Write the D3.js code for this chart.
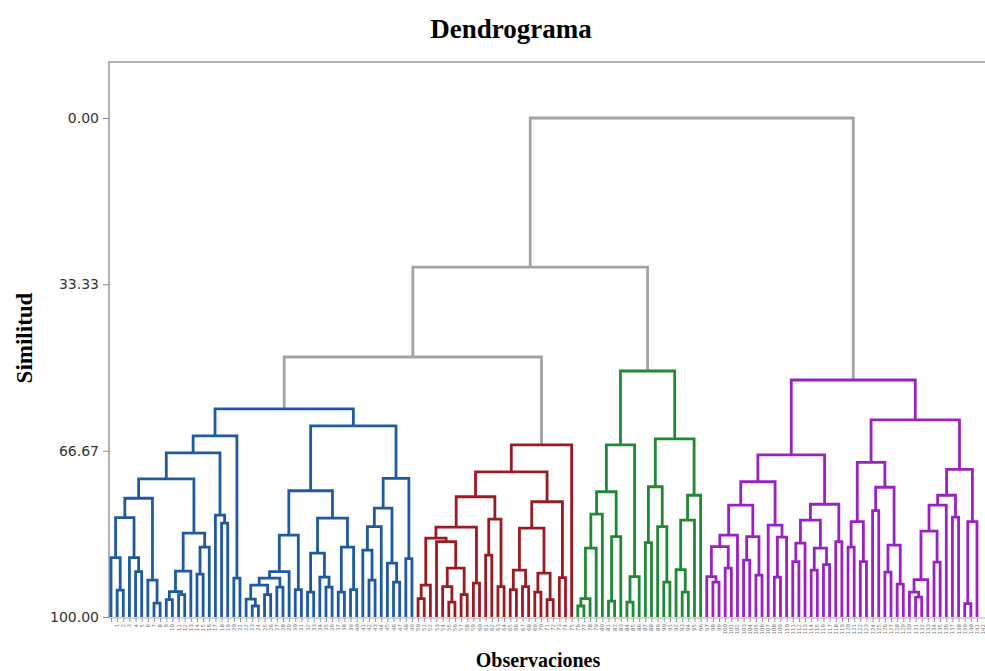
<!DOCTYPE html>
<html>
<head>
<meta charset="utf-8">
<script src="https://cdn.jsdelivr.net/npm/d3@7"></script>
<style>
  html, body { margin: 0; padding: 0; background: #fff; }
  svg { display: block; }
</style>
</head>
<body>
<svg id="chart" width="985" height="671"></svg>
<script>
// Nodes are [similitud, izquierda, derecha]; a 0 marks a single observation.
const grupoAzul = [58.3,
  [63.7,
    [67.1,
      [72.3,
        [76.2,
          [80.1, [88.1, 0, [94.6, 0, 0]], [88.1, 0, [90.9, 0, 0]]],
          [92.6, 0, [97.2, 0, 0]]],
        [83.2,
          [90.8, [94.9, [96.5, 0, 0], [95.5, 0, 0]], 0],
          [86.0, [91.4, 0, 0], 0]]],
      [79.6, 0, [81.2, 0, 0]]],
    [92.2, 0, 0]],
  [61.7,
    [74.7,
      [83.6,
        [90.9, [92.2, [93.6, [96.4, 0, [97.8, 0, 0]], [95.5, 0, 0]], [94.0, 0, 0]], 0],
        [94.5, 0, 0]],
      [80.2,
        [87.2, [95.0, 0, 0], [92.0, 0, [94.0, 0, 0]]],
        [86.0, [95.0, 0, 0], [94.5, 0, 0]]]],
    [72.2,
      [78.2,
        [81.9, [86.6, 0, [92.6, 0, 0]], 0],
        [89.2, 0, [93.0, 0, 0]]],
      [88.3, 0, 0]]]];

const grupoRojo = [65.5,
  [70.9,
    [75.9,
      [82.0,
        [84.2,
          [93.6, [96.3, 0, 0], 0],
          [84.9, 0, [90.2, [93.9, 0, [97.0, 0, 0]], [95.5, 0, 0]]]],
        [93.2, 0, 0]],
      [80.4, [87.6, 0, 0], [93.9, 0, 0]]],
    [76.9,
      [82.2,
        [90.6, [94.5, 0, 0], [93.9, 0, 0]],
        [91.2, [95.0, 0, 0], [96.5, 0, 0]]],
      [92.1, 0, 0]]],
  0];

const grupoVerde = [50.7,
  [65.5,
    [74.9,
      [79.4, [86.2, [96.3, [97.8, 0, 0], 0], 0], 0],
      [83.9, [96.8, 0, 0], 0]],
    [91.9, [97.0, 0, 0], 0]],
  [64.3,
    [73.9, [85.1, 0, 0], [81.9, 0, [93.0, 0, 0]]],
    [75.6, [80.6, [90.5, 0, [95.0, 0, 0]], 0], 0]]];

const grupoMorado = [52.5,
  [67.5,
    [72.9,
      [77.6,
        [83.6, [85.9, [91.9, 0, [93.0, 0, 0]], [90.2, 0, 0]], 0],
        [83.9, [88.6, 0, 0], [91.6, 0, 0]]],
      [81.6, 0, [84.0, [92.0, 0, 0], 0]]],
    [77.4,
      [80.6,
        [85.2, [88.9, 0, 0], 0],
        [86.2, [90.6, 0, 0], [89.5, 0, 0]]],
      [84.9, 0, 0]]],
  [60.5,
    [69.0,
      [80.9, [86.0, 0, 0], [88.9, 0, 0]],
      [74.0, [78.7, 0, 0], [85.6, [91.0, 0, 0], [93.4, 0, 0]]]],
    [70.4,
      [75.6,
        [77.6, [82.8, [92.5, [95.0, 0, [96.0, 0, 0]], 0], [89.0, 0, 0]], 0],
        [80.0, 0, 0]],
      [80.9, [97.3, 0, 0], 0]]]];

// Joins between the four groups, drawn in grey.
const uniones = [0.0, [29.9, [47.9, "azul", "rojo"], "verde"], "morado"];

const grupos = {
  azul:   { arbol: grupoAzul,   color: "#1f5aa0" },
  rojo:   { arbol: grupoRojo,   color: "#9a1c22" },
  verde:  { arbol: grupoVerde,  color: "#1f8a36" },
  morado: { arbol: grupoMorado, color: "#9a22c4" }
};
const colorUnion = "#a3a3a3";

const ticksSimilitud = [0, 33.33, 66.67, 100];

const etiquetas = [
  "1","2","3","4","5","6","7","8","9","10","11","12","13","14","15","16","17","18","19","20",
  "21","22","23","24","25","26","27","28","29","30","31","32","33","34","35","36","37","38","39","40",
  "41","42","43","44","45","46","47","48","49","50","51","52","53","54","55","56","57","58","59","60",
  "61","62","63","64","65","66","67","68","69","70","71","72","73","74","75","76","77","78","79","80",
  "81","82","83","84","85","86","87","88","89","90","91","92","93","94","95","96","97","98","99","100",
  "101","102","103","104","105","106","107","108","109","110","111","112","113","114","115","116","117","118","119","120",
  "121","122","123","124","125","126","127","128","129","130","131","132","133","134","135","136","137","138","139","140",
  "141","142"
];

// ---- build a hierarchy from the nested arrays ----
let hoja = 0;
function construir(n, color) {
  if (typeof n === "string") {
    const g = grupos[n];
    return construir(g.arbol, g.color);
  }
  if (!Array.isArray(n)) {
    return { hoja: true, nombre: etiquetas[hoja++], color: color };
  }
  return { sim: n[0], color: color, children: [construir(n[1], color), construir(n[2], color)] };
}
const raiz = d3.hierarchy(construir(uniones, colorUnion));
const hojas = raiz.leaves();

// ---- scales ----
const svg = d3.select("#chart");
const plot = { left: 109, top: 62, right: 1000, bottom: 618 };

const x = d3.scalePoint()
  .domain(hojas.map(d => d.data.nombre))
  .range([111, 977]);

const y = d3.scaleLinear()
  .domain([0, 100])
  .range([118, 617]);

hojas.forEach(d => { d.px = x(d.data.nombre); d.py = y(100); });
raiz.eachAfter(d => {
  if (d.children) {
    d.px = (d.children[0].px + d.children[1].px) / 2;
    d.py = y(d.data.sim);
  }
});

// ---- frame ----
svg.append("rect").attr("width", 985).attr("height", 671).attr("fill", "#fff");
svg.append("path")
  .attr("d", `M${plot.left},${plot.bottom} V${plot.top} H${plot.right}`)
  .attr("fill", "none").attr("stroke", "#9a9a9a").attr("stroke-width", 1.5);

// ---- axes ----
const ejeY = svg.append("g")
  .attr("transform", `translate(${plot.left},0)`)
  .call(d3.axisLeft(y).tickValues(ticksSimilitud).tickFormat(d3.format(".2f")).tickSize(6).tickPadding(4));
ejeY.select(".domain").remove();
ejeY.selectAll(".tick line").attr("stroke", "#888");
ejeY.selectAll(".tick text")
  .attr("font-family", "DejaVu Sans, sans-serif").attr("font-size", 14).attr("fill", "#333");

const ejeX = svg.append("g")
  .attr("transform", `translate(0,${plot.bottom})`)
  .call(d3.axisBottom(x).tickSize(4).tickPadding(2));
ejeX.select(".domain").attr("stroke", "#aaa").attr("d", `M${plot.left},0 H${plot.right}`);
ejeX.selectAll(".tick line").attr("stroke", "#999");
ejeX.selectAll(".tick text")
  .attr("font-family", "DejaVu Sans, sans-serif").attr("font-size", 5.5).attr("fill", "#777")
  .attr("text-anchor", "end").attr("dy", "0.3em")
  .attr("transform", "translate(0,6) rotate(-90)");

// ---- dendrogram links ----
const nodos = raiz.descendants().filter(d => d.children);
svg.append("g")
  .attr("fill", "none")
  .attr("stroke-width", 2.8)
  .attr("stroke-linejoin", "miter")
  .selectAll("path")
  .data(nodos)
  .join("path")
  .attr("stroke", d => d.data.color)
  .attr("d", d => {
    const [a, b] = d.children;
    return `M${a.px},${a.py} V${d.py} H${b.px} V${b.py}`;
  });

// ---- titles ----
svg.append("text")
  .attr("x", 511).attr("y", 38)
  .attr("text-anchor", "middle")
  .attr("font-family", "Liberation Serif, serif").attr("font-weight", "bold").attr("font-size", 27)
  .text("Dendrograma");

svg.append("text")
  .attr("transform", "translate(32,338) rotate(-90)")
  .attr("text-anchor", "middle")
  .attr("font-family", "Liberation Serif, serif").attr("font-weight", "bold").attr("font-size", 23)
  .text("Similitud");

svg.append("text")
  .attr("x", 538).attr("y", 667)
  .attr("text-anchor", "middle")
  .attr("font-family", "Liberation Serif, serif").attr("font-weight", "bold").attr("font-size", 20)
  .text("Observaciones");
</script>
</body>
</html>
